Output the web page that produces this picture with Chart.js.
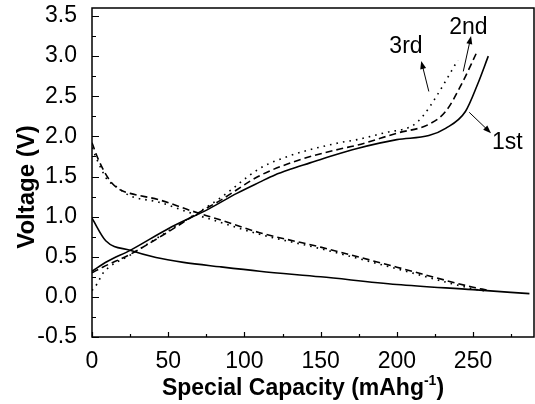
<!DOCTYPE html>
<html>
<head>
<meta charset="utf-8">
<script src="https://cdn.jsdelivr.net/npm/chart.js@4.4.1/dist/chart.umd.min.js"></script>
<style>
  html, body { margin: 0; padding: 0; background: #fff; }
  #wrap { width: 535px; height: 404px; }
</style>
</head>
<body>
<div id="wrap"><canvas id="chart" width="535" height="404"></canvas></div>
<script>
// capacity (mAh/g) and voltage (V)
var charge1Cap = [0, 10, 25, 50, 77, 95, 110, 120, 130, 143, 156, 174, 200, 221, 232, 245, 253, 260];
var charge1V   = [0.32, 0.44, 0.58, 0.85, 1.10, 1.29, 1.43, 1.52, 1.59, 1.67, 1.75, 1.85, 1.96, 2.01, 2.10, 2.31, 2.65, 3.00];
var discharge1Cap = [0, 9, 25, 42, 60, 84, 110, 150, 200, 250, 287];
var discharge1V   = [0.98, 0.70, 0.58, 0.49, 0.43, 0.375, 0.32, 0.25, 0.155, 0.09, 0.04];

var charge2Cap = [0, 7, 25, 50, 70, 84, 110, 135, 162, 174, 200, 221, 232, 243, 252];
var charge2V   = [0.30, 0.37, 0.53, 0.81, 1.05, 1.20, 1.51, 1.70, 1.84, 1.89, 2.04, 2.15, 2.31, 2.67, 3.03];
var discharge2Cap = [0, 4, 9, 13, 19, 25, 44, 64, 84, 110, 150, 200, 250, 259];
var discharge2V   = [1.92, 1.72, 1.53, 1.42, 1.33, 1.29, 1.21, 1.08, 0.96, 0.80, 0.62, 0.37, 0.12, 0.085];

var charge3Cap = [0, 3.6, 7, 25, 50, 84, 110, 130, 162, 174, 193, 210, 217, 226, 240];
var charge3V   = [0.08, 0.17, 0.29, 0.52, 0.82, 1.23, 1.60, 1.76, 1.92, 1.96, 2.05, 2.13, 2.25, 2.50, 2.95];
var discharge3Cap = [0, 4, 10, 14, 25, 44, 64, 84, 110, 150, 200, 250, 257];
var discharge3V   = [1.86, 1.68, 1.46, 1.40, 1.26, 1.18, 1.05, 0.93, 0.78, 0.60, 0.35, 0.10, 0.075];

var xTicks = [0, 50, 100, 150, 200, 250];
var yTicks = [-0.5, 0.0, 0.5, 1.0, 1.5, 2.0, 2.5, 3.0, 3.5];

// cycle labels: [text, textX, textY, arrowFromX, arrowFromY, arrowToX, arrowToY]
var cycleLabels = [
  ['3rd', 206, 3.12, 221, 2.56, 216, 2.94],
  ['2nd', 247, 3.36, 243.6, 2.81, 248.7, 3.25],
  ['1st', 272.5, 1.92, 247.5, 2.30, 261.8, 2.04]
];

function pts(xs, ys) {
  return xs.map(function(x, i) { return { x: x, y: ys[i] }; });
}

function line(label, xs, ys, dash) {
  return {
    label: label,
    data: pts(xs, ys),
    showLine: true,
    borderColor: '#000',
    borderWidth: 1.6,
    borderDash: dash,
    pointRadius: 0,
    cubicInterpolationMode: 'monotone',
    fill: false
  };
}

var solid = [], dashed = [7, 4], dotted = [1.6, 5];

var decor = {
  id: 'decor',
  afterDatasetsDraw: function(chart) {
    var ctx = chart.ctx, a = chart.chartArea;
    var xs = chart.scales.x, ys = chart.scales.y;
    ctx.save();
    ctx.strokeStyle = '#000';
    ctx.fillStyle = '#000';
    ctx.lineWidth = 1.5;
    ctx.setLineDash([]);
    ctx.strokeRect(a.left, a.top, a.right - a.left, a.bottom - a.top);

    // inward ticks
    ctx.lineWidth = 1.2;
    ctx.beginPath();
    for (var v = 0; v <= 275; v += 25) {
      var px = Math.round(xs.getPixelForValue(v)) + 0.5;
      var len = (v % 50 === 0) ? 5 : 3;
      ctx.moveTo(px, a.bottom);
      ctx.lineTo(px, a.bottom - len);
    }
    for (var k = -2; k <= 14; k++) {
      var val = k * 0.25;
      var py = Math.round(ys.getPixelForValue(val)) + 0.5;
      var l2 = (k % 2 === 0) ? 7 : 4;
      ctx.moveTo(a.left, py);
      ctx.lineTo(a.left + l2, py);
    }
    ctx.stroke();

    // x axis title with superscript
    ctx.textBaseline = 'alphabetic';
    var t1 = 'Special Capacity (mAhg';
    ctx.font = 'bold 14px "Liberation Sans", Arial, sans-serif';
    var wSup = ctx.measureText('-1').width;
    ctx.font = 'bold 23px "Liberation Sans", Arial, sans-serif';
    var w1 = ctx.measureText(t1).width, w3 = ctx.measureText(')').width;
    var total = w1 + wSup + w3;
    var cx = (a.left + a.right) / 2 - 10;
    var bx = cx - total / 2, by = 395;
    ctx.textAlign = 'left';
    ctx.fillText(t1, bx, by);
    ctx.font = 'bold 14px "Liberation Sans", Arial, sans-serif';
    ctx.fillText('-1', bx + w1, by - 10);
    ctx.font = 'bold 23px "Liberation Sans", Arial, sans-serif';
    ctx.fillText(')', bx + w1 + wSup, by);

    // y axis title
    ctx.save();
    ctx.translate(34, 187);
    ctx.rotate(-Math.PI / 2);
    ctx.font = 'bold 24px "Liberation Sans", Arial, sans-serif';
    ctx.textAlign = 'center';
    ctx.fillText('Voltage (V)', 0, 0);
    ctx.restore();

    // cycle labels with arrows
    ctx.font = '23px "Liberation Sans", Arial, sans-serif';
    ctx.textAlign = 'center';
    ctx.textBaseline = 'middle';
    ctx.lineWidth = 1;
    cycleLabels.forEach(function(c) {
      ctx.fillText(c[0], xs.getPixelForValue(c[1]), ys.getPixelForValue(c[2]));
      var x0 = xs.getPixelForValue(c[3]), y0 = ys.getPixelForValue(c[4]);
      var x1 = xs.getPixelForValue(c[5]), y1 = ys.getPixelForValue(c[6]);
      var ang = Math.atan2(y1 - y0, x1 - x0);
      ctx.beginPath();
      ctx.moveTo(x0, y0);
      ctx.lineTo(x1 - 5 * Math.cos(ang), y1 - 5 * Math.sin(ang));
      ctx.stroke();
      ctx.beginPath();
      ctx.moveTo(x1, y1);
      ctx.lineTo(x1 - 8 * Math.cos(ang) + 3 * Math.sin(ang), y1 - 8 * Math.sin(ang) - 3 * Math.cos(ang));
      ctx.lineTo(x1 - 8 * Math.cos(ang) - 3 * Math.sin(ang), y1 - 8 * Math.sin(ang) + 3 * Math.cos(ang));
      ctx.closePath();
      ctx.fill();
    });
    ctx.restore();
  }
};

var ctx = document.getElementById('chart').getContext('2d');
var chart = new Chart(ctx, {
  type: 'scatter',
  data: {
    datasets: [
      line('1st charge', charge1Cap, charge1V, solid),
      line('1st discharge', discharge1Cap, discharge1V, solid),
      line('2nd charge', charge2Cap, charge2V, dashed),
      line('2nd discharge', discharge2Cap, discharge2V, dashed),
      line('3rd charge', charge3Cap, charge3V, dotted),
      line('3rd discharge', discharge3Cap, discharge3V, dotted)
    ]
  },
  options: {
    responsive: false,
    animation: false,
    layout: { padding: { top: 8, right: 1, left: 0, bottom: 0 } },
    plugins: { legend: { display: false }, tooltip: { enabled: false } },
    scales: {
      x: {
        type: 'linear',
        min: 0,
        max: 290,
        grid: { display: false },
        border: { display: false },
        afterBuildTicks: function(s) { s.ticks = xTicks.map(function(v) { return { value: v }; }); },
        ticks: {
          color: '#000',
          padding: 3,
          maxRotation: 0,
          font: { family: '"Liberation Sans", Arial, sans-serif', size: 23 }
        },
        afterFit: function(s) { s.height = 67; s.paddingLeft = 0; s.paddingRight = 0; }
      },
      y: {
        type: 'linear',
        min: -0.5,
        max: 3.6,
        grid: { display: false },
        border: { display: false },
        afterBuildTicks: function(s) { s.ticks = yTicks.map(function(v) { return { value: v }; }); },
        ticks: {
          color: '#000',
          padding: 7,
          callback: function(v) { return v.toFixed(1); },
          font: { family: '"Liberation Sans", Arial, sans-serif', size: 23 }
        },
        afterFit: function(s) { s.width = 92; s.paddingTop = 0; s.paddingBottom = 0; }
      }
    }
  },
  plugins: [decor]
});
</script>
</body>
</html>
